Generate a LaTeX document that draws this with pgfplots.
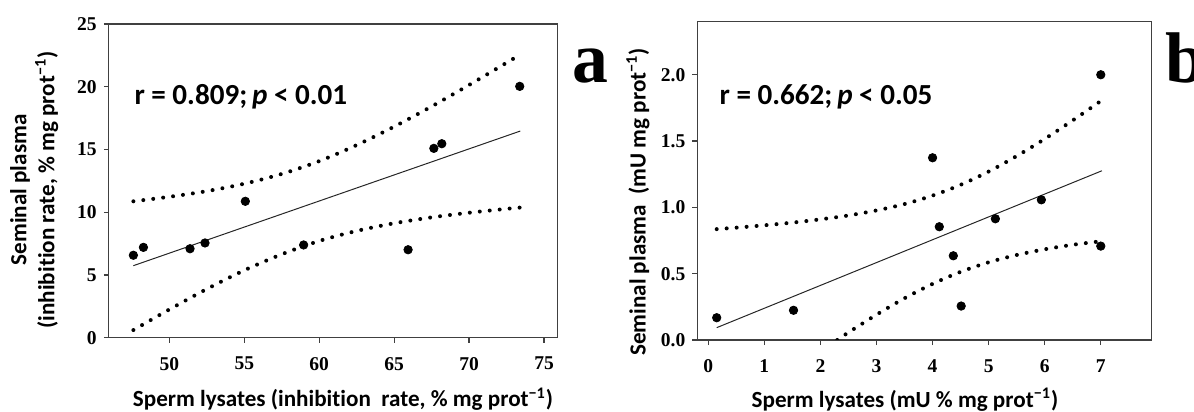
\documentclass[border=0pt]{standalone}
\usepackage{fontspec}
\setmainfont{Liberation Serif}
\newfontfamily\carlito[Ligatures=NoCommon]{Carlito}
\usepackage{pgfplots}
\pgfplotsset{compat=1.18}
\definecolor{axgray}{HTML}{404040}
\begin{document}
\begin{tikzpicture}
\useasboundingbox (0bp,0bp) rectangle (597bp,206bp);
\pgfplotsset{
 common/.style={scale only axis,
   axis line style={draw=axgray, line width=0.6bp},
   tick style={draw=axgray, line width=0.6bp},
   tick align=outside, tick pos=left, major tick length=2.5bp,
   ticklabel style={font=\fontsize{9.8}{11}\selectfont\bfseries},
   xticklabel style={yshift=-3.7bp},
   /pgf/number format/assume math mode=true,
   label style={font=\carlito\bfseries\fontsize{11.6}{14}\selectfont},
   clip=true},
 ci/.style={line width=2bp, dash pattern=on 0pt off 5bp, line cap=round, black},
 pts/.style={only marks, mark=*, mark size=2.1bp, black},
 fitl/.style={line width=0.5bp, black!85},
}
% ---------------- panel a
\begin{axis}[common, at={(54.4bp,37.15bp)}, anchor=south west,
  width=224.5bp, height=156.85bp,
  xmin=45.96, xmax=75.92, ymin=0, ymax=25,
  xtick={50,55,60,65,70,75}, ytick={0,5,10,15,20,25},
  xlabel={Sperm lysates (inhibition\ \ rate, \% mg prot\textsuperscript{−1})},
  xlabel style={at={(axis description cs:0.5216,-0.2209)}, anchor=base},
  ylabel={Seminal plasma\\(inhibition rate, \% mg prot\textsuperscript{−1})},
  ylabel style={at={(axis description cs:-0.166,0.471)}, anchor=center, align=center},
]
\addplot[ci, smooth] coordinates {(47.6,10.87) (50,11.23) (52.5,11.68) (55,12.27) (57.5,13.05) (60,14.07) (62.5,15.35) (65,16.82) (67.5,18.43) (70,20.14) (72.5,21.91) (73.4,22.55)};
\addplot[ci, smooth] coordinates {(47.6,0.61) (50,2.25) (52.5,3.88) (55,5.37) (57.5,6.65) (60,7.71) (62.5,8.51) (65,9.12) (67.5,9.59) (70,9.96) (72.5,10.27) (73.4,10.37)};
\addplot[fitl] coordinates {(47.6,5.74) (73.42,16.47)};
\addplot[pts] coordinates {(47.6,6.57) (48.27,7.2) (51.38,7.09) (52.38,7.55) (55.07,10.87) (58.96,7.39) (65.93,7.01) (67.65,15.09) (68.18,15.46) (73.38,20.03)};
\node[anchor=base west, inner sep=0pt, font=\carlito\bfseries\fontsize{14.6}{16}\selectfont] at (axis cs:47.65,18.62) {r = 0.809;\,\textit{p} < 0.01};
\end{axis}
% ---------------- panel b
\begin{axis}[common, at={(348.65bp,36bp)}, anchor=south west,
  width=227.2bp, height=159.15bp,
  xmin=-0.196, xmax=7.908, ymin=0, ymax=2.4,
  xtick={0,1,2,3,4,5,6,7}, ytick={0,0.5,1,1.5,2},
  yticklabel style={/pgf/number format/.cd, fixed, fixed zerofill, precision=1},
  xlabel={Sperm lysates (mU \% mg prot\textsuperscript{−1})},
  xlabel style={at={(axis description cs:0.457,-0.2105)}, anchor=base},
  ylabel={Seminal plasma\ \ (mU mg prot\textsuperscript{−1})},
  ylabel style={at={(axis description cs:-0.1305,0.4336)}, anchor=center},
]
\addplot[ci, smooth] coordinates {(0.15,0.836) (0.5,0.847) (1,0.865) (1.5,0.885) (2,0.910) (2.5,0.939) (3,0.977) (3.5,1.025) (4,1.089) (4.5,1.170) (5,1.270) (5.5,1.387) (6,1.516) (6.5,1.656) (7,1.802)};
\addplot[ci, smooth] coordinates {(2.3,0) (2.5,0.057) (3,0.191) (3.5,0.315) (4,0.423) (4.5,0.514) (5,0.586) (5.5,0.641) (6,0.684) (6.5,0.718) (7,0.744)};
\addplot[fitl] coordinates {(0.15,0.093) (7.02,1.276)};
\addplot[pts] coordinates {(0.15,0.168) (1.52,0.224) (4.0,1.374) (4.12,0.854) (4.37,0.635) (4.51,0.256) (5.12,0.914) (5.94,1.057) (7.0,2.0) (7.0,0.708)};
\node[anchor=base west, inner sep=0pt, font=\carlito\bfseries\fontsize{14.6}{16}\selectfont] at (axis cs:0.196,1.772) {r = 0.662;\,\textit{p} < 0.05};
\end{axis}
\node[anchor=base west, inner sep=0pt, font=\fontsize{36}{36}\selectfont\bfseries] at (286bp,164.5bp) {a};
\node[anchor=base west, inner sep=0pt, font=\fontsize{36}{36}\selectfont\bfseries] at (582.5bp,164.5bp) {b};
\end{tikzpicture}
\end{document}
